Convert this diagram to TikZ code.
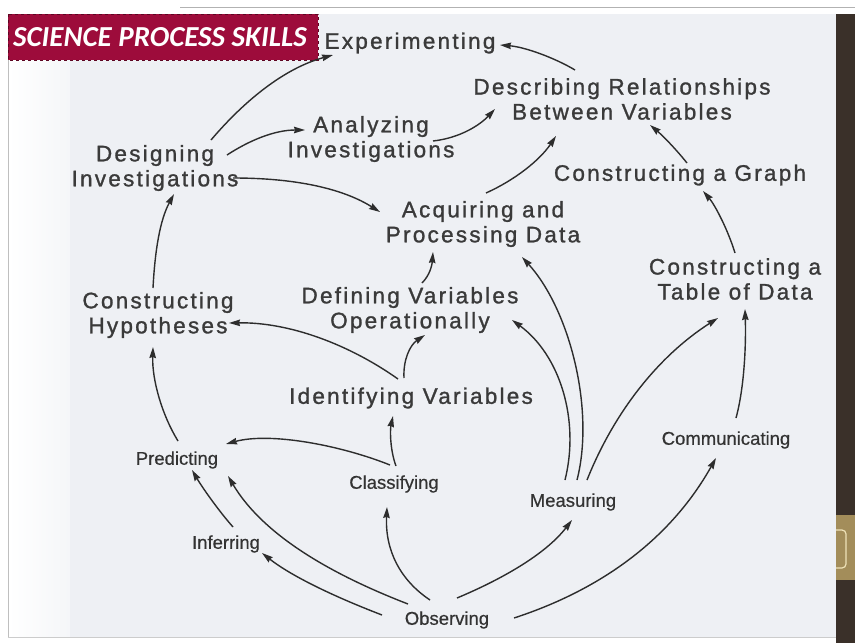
\documentclass[tikz,border=0pt]{standalone}
\usepackage{fontspec}
\usetikzlibrary{arrows.meta}
\newfontfamily\biglbl[LetterSpace=10,FakeBold=1.2]{Liberation Sans}
\newfontfamily\smalllbl[FakeBold=0.5]{Liberation Sans}
\newfontfamily\ttlfont{Carlito}
\definecolor{pagebg}{HTML}{EEF0F4}
\definecolor{titlered}{HTML}{9D0C3B}
\definecolor{titleedge}{HTML}{5E0522}
\definecolor{lbltext}{HTML}{3A3A3A}
\definecolor{smalltext}{HTML}{333333}
\definecolor{linecol}{HTML}{2D2D2D}
\definecolor{barbrown}{HTML}{3A3029}
\definecolor{tabgold}{HTML}{A38D5A}
\definecolor{tabline}{HTML}{EFE2B8}
\tikzset{
  biglabel/.style={font=\biglbl\fontsize{22.5}{25}\selectfont, text=lbltext, align=center, inner sep=0pt},
  smalllabel/.style={font=\smalllbl\fontsize{18.5}{22}\selectfont, text=smalltext, inner sep=0pt},
  arr/.style={draw=linecol, line width=1.4pt, -{Stealth[length=11pt,width=6.5pt,inset=1pt]}}
}
\begin{document}
\begin{tikzpicture}[x=1pt,y=-1pt]
\useasboundingbox (0,0) rectangle (855,643);
% page frame and screen background
\fill[white] (0,0) rectangle (855,643);
\draw[color=black!30, line width=1pt] (180,7) -- (855,7);
\fill[pagebg] (70,14) rectangle (836,637);
\shade[left color=white, right color=pagebg!60!white] (8,14) rectangle (70,637);
\draw[color=black!25, line width=1pt] (8,14) -- (8,637);
\draw[color=black!20, line width=1pt] (8,637) -- (836,637);
% right-hand bar with tab
\fill[barbrown] (836,14) rectangle (855,643);
\fill[tabgold] (836,515) rectangle (855,580);
\draw[tabline, line width=1.2pt, rounded corners=4pt] (836,530) -- (846,530) -- (846,568) -- (836,568);
% title banner
\fill[titlered] (8,14) rectangle (318,60);
\draw[titleedge, dashed, line width=0.8pt] (8,14) rectangle (318,60);
\node[font=\ttlfont\bfseries\itshape\fontsize{29}{32}\selectfont, text=white, inner sep=0pt] (title) at (160,37) {SCIENCE PROCESS SKILLS};

% skills
\node[biglabel] (exper)  at (410,43)  {Experimenting};
\node[biglabel] (descr)  at (622,99)  {Describing Relationships\\Between Variables};
\node[biglabel] (analyz) at (371,139) {Analyzing\\Investigations};
\node[biglabel] (design) at (155,168) {Designing\\Investigations};
\node[biglabel] (graph)  at (680,175) {Constructing a Graph};
\node[biglabel] (acq)    at (483,224) {Acquiring and\\Processing Data};
\node[biglabel] (table)  at (735,279) {Constructing a\\Table of Data};
\node[biglabel] (hyp)    at (158,315) {Constructing\\Hypotheses};
\node[biglabel] (defin)  at (410,310) {Defining Variables\\Operationally};
\node[biglabel] (ident)  at (411,398) {Identifying Variables};
\node[smalllabel] (pred)  at (177,460) {Predicting};
\node[smalllabel] (class) at (394,484) {Classifying};
\node[smalllabel] (meas)  at (573,502) {Measuring};
\node[smalllabel] (comm)  at (726,440) {Communicating};
\node[smalllabel] (infer) at (226,544) {Inferring};
\node[smalllabel] (obs)   at (447,620) {Observing};

% connectors
\draw[arr] ([shift={(56,-28)}]design.center) .. controls (245,100) and (285,68) .. ([shift={(-77,12)}]exper.center);
\draw[arr] ([shift={(-47,-29)}]descr.center) .. controls (555,58) and (525,47) .. ([shift={(90,2)}]exper.center);
\draw[arr] ([shift={(72,-13)}]design.center) .. controls (250,140) and (275,130) .. ([shift={(-66,-9)}]analyz.center);
\draw[arr] ([shift={(62,2)}]analyz.center) .. controls (460,138) and (480,125) .. ([shift={(-127,10)}]descr.center);
\draw[arr] ([shift={(78,10)}]design.center) .. controls (300,178) and (345,190) .. ([shift={(-103,-12)}]acq.center);
\draw[arr] ([shift={(3,-31)}]acq.center) .. controls (515,180) and (540,160) .. ([shift={(-66,37)}]descr.center);
\draw[arr] ([shift={(7,-12)}]graph.center) .. controls (675,148) and (662,135) .. ([shift={(28,26)}]descr.center);
\draw[arr] ([shift={(0,-26)}]table.center) .. controls (728,230) and (715,205) .. ([shift={(23,16)}]graph.center);
\draw[arr] ([shift={(-5,-27)}]hyp.center) .. controls (155,250) and (160,220) .. ([shift={(19,26)}]design.center);
\draw[arr] ([shift={(-13,-19)}]ident.center) .. controls (350,345) and (290,322) .. ([shift={(71,8)}]hyp.center);
\draw[arr] ([shift={(-7,-20)}]ident.center) .. controls (403,360) and (410,345) .. ([shift={(15,25)}]defin.center);
\draw[arr] ([shift={(12,-27)}]defin.center) .. controls (430,275) and (432,265) .. ([shift={(-50,28)}]acq.center);
\draw[arr] ([shift={(2,-18)}]class.center) .. controls (390,450) and (390,430) .. ([shift={(-18,18)}]ident.center);
\draw[arr] ([shift={(-4,-19)}]class.center) .. controls (340,445) and (270,432) .. ([shift={(49,-16)}]pred.center);
\draw[arr] ([shift={(1,-19)}]pred.center) .. controls (162,415) and (152,380) .. ([shift={(-5,32)}]hyp.center);
\draw[arr] ([shift={(7,-17)}]infer.center) .. controls (218,510) and (202,487) .. ([shift={(15,10)}]pred.center);
\draw[arr] ([shift={(-65,-5)}]obs.center) .. controls (330,595) and (290,575) .. ([shift={(36,9)}]infer.center);
\draw[arr] ([shift={(-39,-16)}]obs.center) .. controls (320,570) and (260,530) .. ([shift={(51,16)}]pred.center);
\draw[arr] ([shift={(-17,-20)}]obs.center) .. controls (400,580) and (385,550) .. ([shift={(-7,23)}]class.center);
\draw[arr] ([shift={(10,-22)}]obs.center) .. controls (500,580) and (545,555) .. ([shift={(-1,18)}]meas.center);
\draw[arr] ([shift={(67,-2)}]obs.center) .. controls (600,590) and (670,540) .. ([shift={(-10,18)}]comm.center);
\draw[arr] ([shift={(10,-22)}]comm.center) .. controls (745,385) and (746,340) .. ([shift={(10,30)}]table.center);
\draw[arr] ([shift={(-8,-22)}]meas.center) .. controls (580,420) and (560,355) .. ([shift={(102,10)}]defin.center);
\draw[arr] ([shift={(4,-22)}]meas.center) .. controls (595,410) and (570,310) .. ([shift={(39,33)}]acq.center);
\draw[arr] ([shift={(14,-22)}]meas.center) .. controls (615,410) and (660,355) .. ([shift={(-17,39)}]table.center);
\end{tikzpicture}
\end{document}
